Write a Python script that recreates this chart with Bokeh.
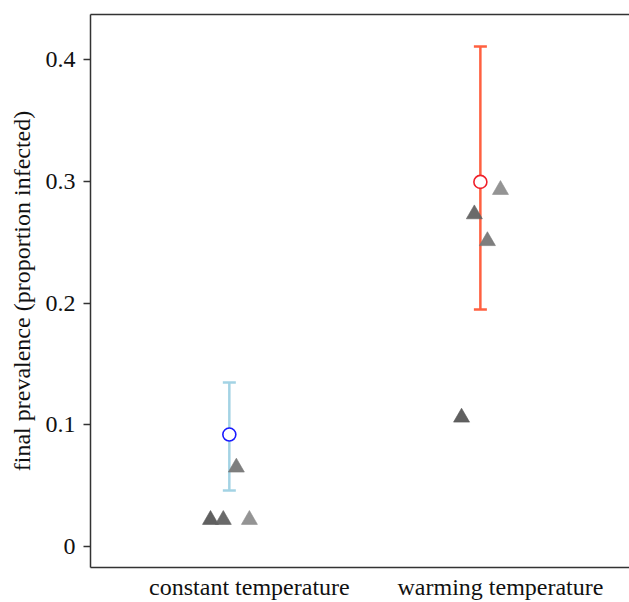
from bokeh.plotting import figure
from bokeh.models import (ColumnDataSource, Range1d, FixedTicker, LinearAxis,
                          Whisker, TeeHead)
from bokeh.embed import file_html
from bokeh.resources import INLINE

# ---- data ----
categories = ["constant temperature", "warming temperature"]
cat_pos = [0, 1]
mean_offset = -0.08

means = [0.092, 0.2995]
err_lower = [0.046, 0.1947]
err_upper = [0.1347, 0.4107]
err_colors = ["#a3d3e4", "#ff6040"]
mean_colors = ["#1a1aff", "#f0202a"]

rep_offsets = [-0.155, -0.104, -0.052, 0.0]
rep_constant = [0.022, 0.022, 0.065, 0.022]
rep_warming = [0.106, 0.273, 0.251, 0.293]
rep_colors = ["#575757", "#626262", "#777777", "#8e8e8e"]

y_ticks = [0, 0.1, 0.2, 0.3, 0.4]
y_tick_labels = ["0", "0.1", "0.2", "0.3", "0.4"]

FONT = "Liberation Serif"

p = figure(width=629, height=602, output_backend="svg", toolbar_location=None,
           x_range=Range1d(-0.633, 1.514), y_range=Range1d(-0.0172, 0.437),
           min_border_left=90, min_border_top=14, min_border_bottom=35,
           min_border_right=0)
p.grid.visible = False
p.outline_line_color = None
p.background_fill_color = "white"

# replicates (triangles)
tx, ty, tc = [], [], []
for c, vals in zip(cat_pos, [rep_constant, rep_warming]):
    for o, v, col in zip(rep_offsets, vals, rep_colors):
        tx.append(c + o)
        ty.append(v)
        tc.append(col)
p.scatter(x=tx, y=ty, marker="triangle", size=16, fill_color=tc,
          line_color=tc, line_alpha=0.6, fill_alpha=0.95)

# error bars
mx = [c + mean_offset for c in cat_pos]
for i in range(2):
    src = ColumnDataSource(dict(x=[mx[i]], lo=[err_lower[i]], hi=[err_upper[i]]))
    w = Whisker(base="x", lower="lo", upper="hi", source=src, dimension="height",
                line_color=err_colors[i], line_width=2.5,
                lower_head=TeeHead(size=13, line_color=err_colors[i], line_width=2.5),
                upper_head=TeeHead(size=13, line_color=err_colors[i], line_width=2.5))
    p.add_layout(w)

# means
p.scatter(x=mx, y=means, marker="circle", size=13, fill_color="white",
          line_color=mean_colors, line_width=1.6)

# axes
p.yaxis.ticker = FixedTicker(ticks=y_ticks)
p.yaxis.major_label_overrides = {t: l for t, l in zip(y_ticks, y_tick_labels)}
p.yaxis.axis_label = "final prevalence (proportion infected)"
p.yaxis.axis_label_text_font = FONT
p.yaxis.axis_label_text_font_style = "normal"
p.yaxis.axis_label_text_font_size = "24px"
p.yaxis.axis_label_text_color = "#111111"
p.yaxis.axis_label_standoff = 8
p.yaxis.major_label_text_font = FONT
p.yaxis.major_label_text_font_size = "24px"
p.yaxis.major_label_text_color = "#111111"
p.yaxis.major_label_standoff = 8
p.yaxis.major_tick_out = 7
p.yaxis.major_tick_in = 0
p.yaxis.minor_tick_line_color = None
p.yaxis.axis_line_color = "#333333"
p.yaxis.axis_line_width = 1.5
p.yaxis.major_tick_line_color = "#333333"
p.yaxis.major_tick_line_width = 1.5

p.xaxis.ticker = FixedTicker(ticks=cat_pos)
p.xaxis.major_label_overrides = {c: n for c, n in zip(cat_pos, categories)}
p.xaxis.major_label_text_font = FONT
p.xaxis.major_label_text_font_size = "24px"
p.xaxis.major_label_text_color = "#111111"
p.xaxis.major_label_text_line_height = 0.8
p.xaxis.major_label_standoff = 6
p.xaxis.major_tick_line_color = None
p.xaxis.major_tick_out = 0
p.xaxis.major_tick_in = 0
p.xaxis.minor_tick_line_color = None
p.xaxis.axis_line_color = "#333333"
p.xaxis.axis_line_width = 1.5

top = LinearAxis(ticker=FixedTicker(ticks=[]), major_tick_line_color=None,
                 minor_tick_line_color=None, major_tick_out=0, minor_tick_out=0,
                 axis_line_color="#333333", axis_line_width=1.5)
p.add_layout(top, "above")

open("out.html", "w").write(file_html(p, INLINE))
